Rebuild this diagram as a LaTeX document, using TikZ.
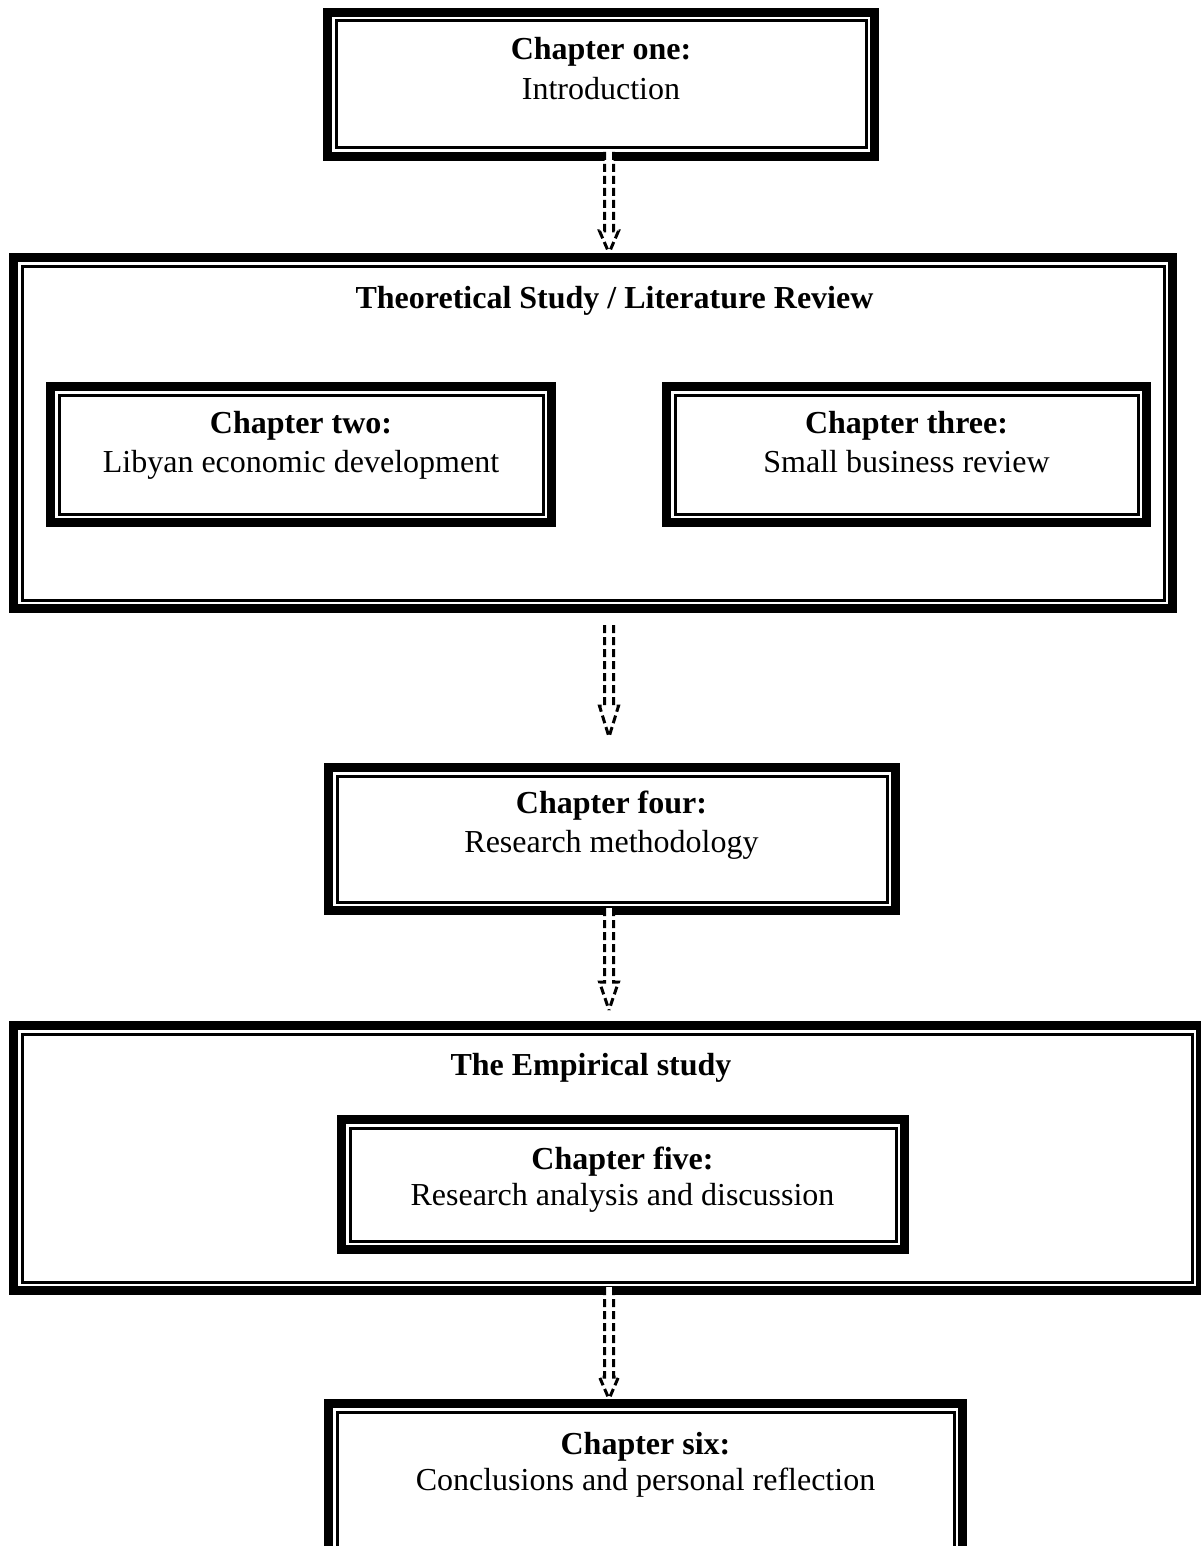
\documentclass[tikz,border=0pt]{standalone}
\usepackage{fontspec}
\setmainfont{Liberation Serif}
\usetikzlibrary{calc}

% thick-thin framed box given by its outer edges: name, left, top, right, bottom
\newcommand\chapterframe[5]{%
  \node[frame, minimum width={#4-#2-9}, minimum height={#5-#3-9}]
    (#1) at ({(#2+#4)/2},{(#3+#5)/2}) {};}

% hollow dashed block arrow from a start point to a tip, with head length
\newcommand\hollowarrow[3]{%
  \fill[white] ($(#1)+(-4.5,0)$) -- ($(#2)+(-4.5,-#3)$) -- ($(#2)+(-9.5,-#3)$) -- (#2)
    -- ($(#2)+(9.5,-#3)$) -- ($(#2)+(4.5,-#3)$) -- ($(#1)+(4.5,0)$) -- cycle;
  \draw[flowline] ($(#1)+(-4.5,0)$) -- ($(#2)+(-4.5,-#3)$) -- ($(#2)+(-9.5,-#3)$) -- (#2);
  \draw[flowline] ($(#1)+(4.5,0)$) -- ($(#2)+(4.5,-#3)$) -- ($(#2)+(9.5,-#3)$) -- (#2);
}

\tikzset{
  frame/.style={draw=black, line width=9pt, outer sep=4.5pt, inner sep=0pt, fill=white,
    path picture={\draw[line width=3pt]
      ([shift={(8.5pt,-8.5pt)}]path picture bounding box.north west) rectangle
      ([shift={(-8.5pt,8.5pt)}]path picture bounding box.south east);}},
  headtext/.style={anchor=base, inner sep=0pt, font=\fontsize{32}{40}\selectfont\bfseries},
  bodytext/.style={anchor=base, inner sep=0pt, font=\fontsize{32}{40}\selectfont},
  flowline/.style={draw=black, line width=3pt, dash pattern=on 8pt off 4pt},
}

\begin{document}
\begin{tikzpicture}[x=1pt, y=-1pt]
\useasboundingbox (0,0) rectangle (1200,1546);

% frames
\chapterframe{ch1}{323}{8}{879}{161}
\chapterframe{theo}{9}{253}{1177}{613}
\chapterframe{ch2}{46}{382}{556}{527}
\chapterframe{ch3}{662}{382}{1151}{527}
\chapterframe{ch4}{324}{763}{900}{915}
\chapterframe{emp}{9}{1021}{1205}{1295}
\chapterframe{ch5}{337}{1115}{909}{1254}
\chapterframe{ch6}{324}{1399}{967}{1590}

% texts
\node[headtext] (ch1h) at (601,60) {Chapter one:};
\node[bodytext] (ch1b) at (601,100) {Introduction};

\node[headtext] (theoh) at (614.5,308) {Theoretical Study / Literature Review};

\node[headtext] (ch2h) at (301,433) {Chapter two:};
\node[bodytext] (ch2b) at (301,472) {Libyan economic development};

\node[headtext] (ch3h) at (906.5,433) {Chapter three:};
\node[bodytext] (ch3b) at (906.5,472) {Small business review};

\node[headtext] (ch4h) at (611.5,813) {Chapter four:};
\node[bodytext] (ch4b) at (611.5,852) {Research methodology};

\node[headtext] (emph) at (591,1075) {The Empirical study};

\node[headtext] (ch5h) at (622.5,1169) {Chapter five:};
\node[bodytext] (ch5b) at (622.5,1205) {Research analysis and discussion};

\node[headtext] (ch6h) at (645.5,1454) {Chapter six:};
\node[bodytext] (ch6b) at (645.5,1490) {Conclusions and personal reflection};

% arrows
\coordinate (spine) at (609,0);
\coordinate (a1s) at ($(ch1.south -| spine)+(0,-9)$);
\coordinate (a1t) at (theo.north -| spine);
\hollowarrow{a1s}{a1t}{22}

\coordinate (a2s) at ($(theo.south -| spine)+(0,12)$);
\coordinate (a2t) at ($(ch4.north -| spine)+(0,-26)$);
\hollowarrow{a2s}{a2t}{31}

\coordinate (a3s) at ($(ch4.south -| spine)+(0,-7)$);
\coordinate (a3t) at ($(emp.north -| spine)+(0,-11)$);
\hollowarrow{a3s}{a3t}{28}

\coordinate (a4s) at ($(emp.south -| spine)+(0,-8)$);
\coordinate (a4t) at (ch6.north -| spine);
\hollowarrow{a4s}{a4t}{22}
\end{tikzpicture}
\end{document}
